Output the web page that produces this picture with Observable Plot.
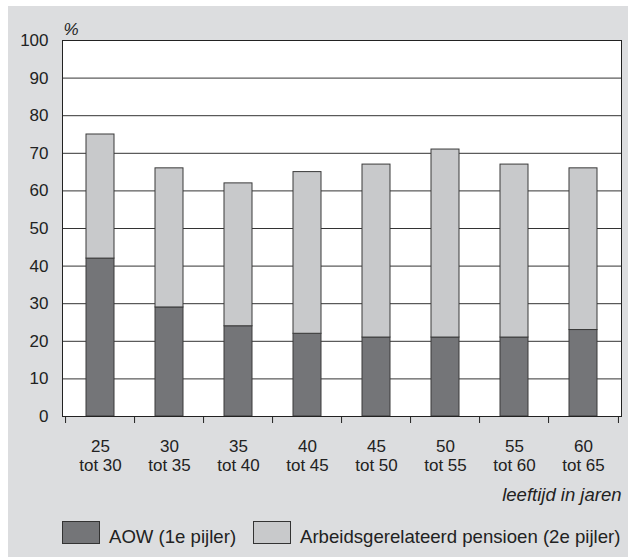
<!DOCTYPE html>
<html><head><meta charset="utf-8">
<script src="https://cdn.jsdelivr.net/npm/d3@7"></script>
<script src="https://cdn.jsdelivr.net/npm/@observablehq/plot@0.6"></script>
<style>
html,body{margin:0;padding:0;background:#fff;}
body{width:628px;height:557px;overflow:hidden;position:relative;font-family:"Liberation Sans",Arial,sans-serif;}
#wrap{position:absolute;left:8px;top:6px;width:620px;height:551px;background:#dcdddf;}
#chart svg{display:block;}
#legend{position:absolute;left:0;top:499px;width:620px;height:52px;}
.sw{position:absolute;top:15.7px;width:38px;height:23px;box-sizing:border-box;border:1px solid #333;}
.lt{position:absolute;top:22.5px;font-size:18.6px;line-height:18px;color:#222;white-space:nowrap;}
</style>
</head><body>
<div id="wrap"><div id="chart"></div><div id="legend"></div></div>
<script>
const categories = ["25\ntot 30","30\ntot 35","35\ntot 40","40\ntot 45","45\ntot 50","50\ntot 55","55\ntot 60","60\ntot 65"];
const aow = [42, 29, 24, 22, 21, 21, 21, 23];
const pensioen = [33, 37, 38, 43, 46, 50, 46, 43];
const seriesNames = ["AOW (1e pijler)", "Arbeidsgerelateerd pensioen (2e pijler)"];
const seriesColors = ["#747578", "#c8c9cb"];
const yTicks = [0, 10, 20, 30, 40, 50, 60, 70, 80, 90, 100];
const yUnit = "%";
const xTitle = "leeftijd in jaren";

const data = categories.flatMap((c, i) => [
  {cat: c, series: seriesNames[0], value: aow[i]},
  {cat: c, series: seriesNames[1], value: pensioen[i]}
]);

const W = 620, H = 499, ML = 54, MR = 7, MT = 34, MB = 89;
const step = (W - ML - MR) / categories.length;

const chart = Plot.plot({
  width: W, height: H,
  marginLeft: ML, marginRight: MR, marginTop: MT, marginBottom: MB,
  style: {background: "transparent", fontFamily: "'Liberation Sans', Arial, sans-serif", fontSize: "17px", color: "#222", overflow: "visible"},
  x: {domain: categories, paddingInner: 0.6, paddingOuter: 0.3, axis: null, label: null},
  y: {domain: [0, 100], axis: null, label: null},
  color: {domain: seriesNames, range: seriesColors},
  marks: [
    Plot.frame({fill: "white", stroke: null}),
    Plot.ruleY(yTicks, {stroke: "#333", strokeWidth: 1}),
    Plot.barY(data, {x: "cat", y: "value", fill: "series", stroke: "#3a3a3a", strokeWidth: 1}),
    Plot.frame({stroke: "#222", strokeWidth: 1}),
    Plot.axisY(yTicks, {tickSize: 0, tickPadding: 14, fontSize: 17, label: null}),
    Plot.ruleX(categories, {x: d => d, y1: 0, y2: 0, insetBottom: -7, dx: -step / 2, stroke: "#222"}),
    Plot.ruleX(categories.slice(-1), {x: d => d, y1: 0, y2: 0, insetBottom: -7, dx: step / 2, stroke: "#222"}),
    Plot.text(categories, {x: d => d, frameAnchor: "bottom", lineAnchor: "top", dy: 22, lineHeight: 1.12, fontSize: 17, fill: "#222"}),
    Plot.text([yUnit], {frameAnchor: "top-left", textAnchor: "start", lineAnchor: "bottom", dy: -6, dx: 1, fontStyle: "italic", fontSize: 17, fill: "#222"}),
    Plot.text([xTitle], {frameAnchor: "bottom-right", textAnchor: "end", lineAnchor: "top", dy: 71, fontStyle: "italic", fontSize: 18.5, fill: "#222"})
  ]
});
document.getElementById("chart").appendChild(chart);

const legend = document.getElementById("legend");
const swLeft = [54, 245.3];
const txtLeft = [101, 292];
seriesNames.forEach((name, i) => {
  const sw = document.createElement("div");
  sw.className = "sw";
  sw.style.left = swLeft[i] + "px";
  sw.style.background = seriesColors[i];
  legend.appendChild(sw);
  const t = document.createElement("div");
  t.className = "lt";
  t.style.left = txtLeft[i] + "px";
  t.textContent = name;
  legend.appendChild(t);
});
</script>
</body></html>
